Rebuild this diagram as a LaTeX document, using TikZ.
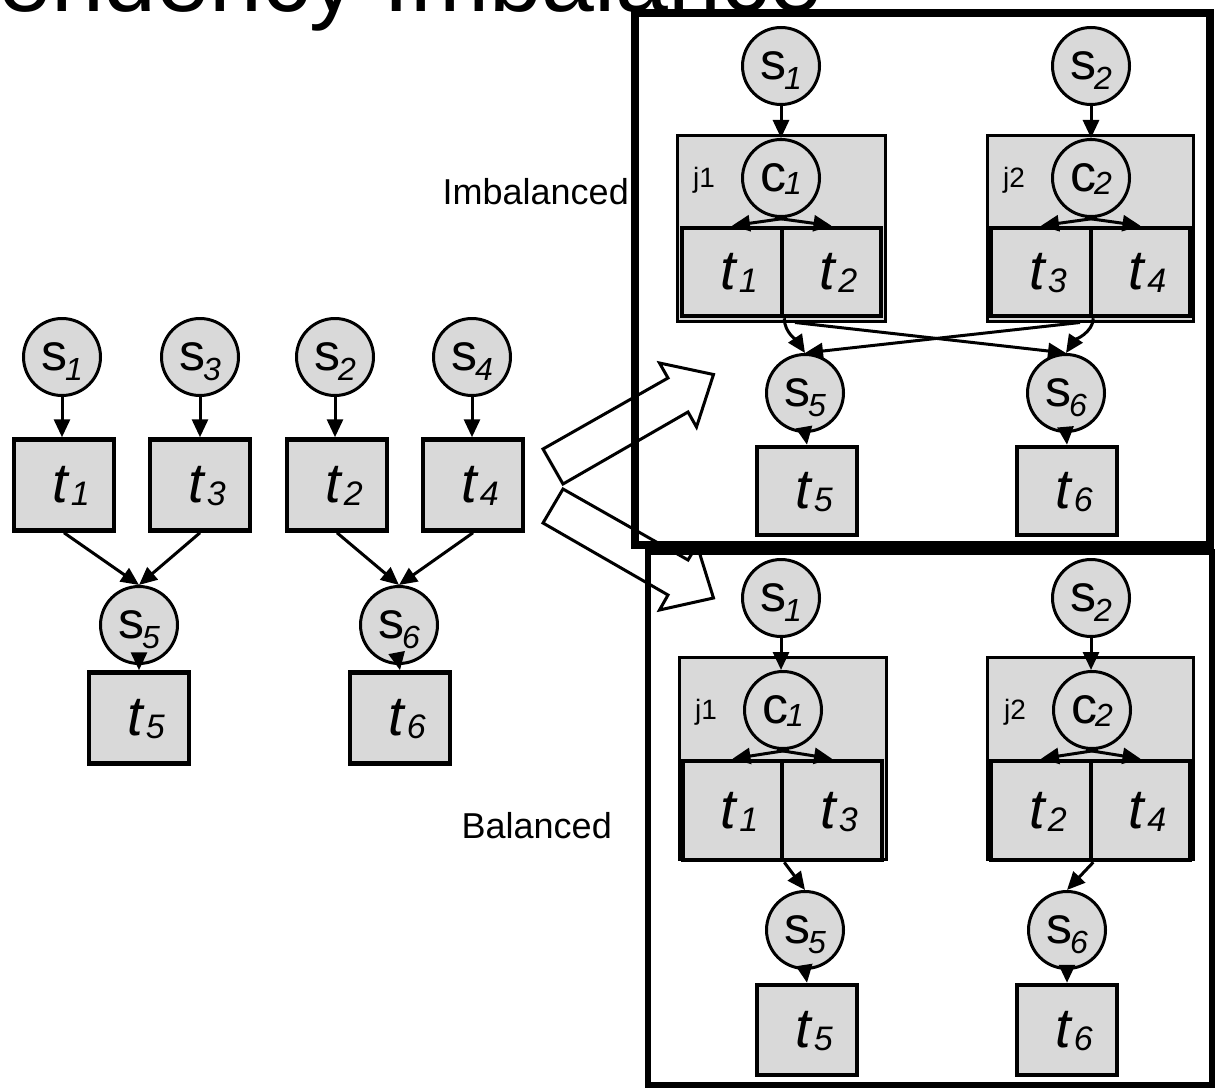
\documentclass[tikz,border=0pt]{standalone}
\usepackage{fontspec}
\setmainfont{Liberation Sans}
\usetikzlibrary{arrows.meta,calc}
\definecolor{nodegray}{RGB}{217,217,217}

% node labels: upright letter with italic subscript, italic t with italic subscript
\newcommand\slab[2]{{\fontsize{52}{52}\selectfont #1}\kern-2pt\raisebox{-10pt}[0pt][0pt]{\fontsize{32}{32}\selectfont\itshape #2}}
\newcommand\clab[2]{{\fontsize{52}{52}\selectfont #1}\kern-2pt\raisebox{-3pt}[0pt][0pt]{\fontsize{32}{32}\selectfont\itshape #2}}
\newcommand\tlab[1]{\hspace*{14pt}{\fontsize{56}{56}\selectfont\itshape t}\kern3pt\raisebox{-3pt}[0pt][0pt]{\fontsize{34}{34}\selectfont\itshape #1}}

\tikzset{
  circ/.style={circle, draw, fill=nodegray, line width=3pt, minimum size=77pt, inner sep=0pt},
  tbox/.style={rectangle, draw, fill=nodegray, line width=4.5pt, minimum width=100pt, minimum height=91pt, inner sep=0pt},
  jbox/.style={rectangle, draw, fill=nodegray, line width=3pt, inner sep=0pt},
  conn/.style={line width=3pt, -{Triangle[length=18pt,width=16pt]}},
  bigarrow/.style={draw, fill=white, line width=3pt, line join=miter},
  frameA/.style={draw, line width=8pt},
  frameB/.style={draw, line width=6pt},
  lbl/.style={font=\fontsize{36}{36}\selectfont, inner sep=0pt},
  jlbl/.style={font=\fontsize{28}{28}\selectfont, inner sep=0pt},
}

\begin{document}
\begin{tikzpicture}[x=1pt,y=-1pt]
\useasboundingbox (0,0) rectangle (1215,1089);

% title, cut by the top edge
\begin{scope}
  \clip (0,0) rectangle (1215,1089);
  \node[anchor=base west, inner sep=0pt, font=\fontsize{95}{95}\selectfont] (title) at (-2,12) {endency Imbalance};
\end{scope}

% ---------- original graph ----------
\node[circ] (ls1) at (62,357) {\slab{s}{1}};
\node[circ] (ls3) at (200,357) {\slab{s}{3}};
\node[circ] (ls2) at (335,357) {\slab{s}{2}};
\node[circ] (ls4) at (472,357) {\slab{s}{4}};
\node[tbox] (lt1) at (64,485) {\tlab{1}};
\node[tbox] (lt3) at (200,485) {\tlab{3}};
\node[tbox] (lt2) at (337,485) {\tlab{2}};
\node[tbox] (lt4) at (473,485) {\tlab{4}};
\node[circ] (ls5) at (139,625) {\slab{s}{5}};
\node[circ] (ls6) at (399,625) {\slab{s}{6}};
\node[tbox] (lt5) at (139,718) {\tlab{5}};
\node[tbox] (lt6) at (400,718) {\tlab{6}};

\foreach \s/\t in {ls1/lt1, ls3/lt3, ls2/lt2, ls4/lt4}
  \draw[conn] (\s.south) -- (\s.south |- \t.north);
\draw[conn] (lt1.south) -- (ls5.north);
\draw[conn] (lt3.south) -- (ls5.north);
\draw[conn] (lt2.south) -- (ls6.north);
\draw[conn] (lt4.south) -- (ls6.north);
\draw[conn] (ls5.south) -- (lt5.north);
\draw[conn] (ls6.south) -- (lt6.north);

% ---------- block arrows ----------
\draw[bigarrow] (563,484) -- (543,449) -- (668,378) -- (659.5,363) -- (713.5,374.5) -- (696.5,427) -- (688,412) -- cycle;
\draw[bigarrow] (543,523) -- (563,489) -- (688,560) -- (697,545) -- (713.5,598) -- (659.5,610) -- (668,595) -- cycle;

% ---------- imbalanced assignment ----------
\node[jbox, minimum width=208pt, minimum height=185pt] (j1A) at (781,228.5) {};
\node[jbox, minimum width=206pt, minimum height=185pt] (j2A) at (1090,228.5) {};
\node[circ] (s1A) at (781,66) {\slab{s}{1}};
\node[circ] (s2A) at (1091,66) {\slab{s}{2}};
\node[circ] (c1A) at (781,178) {\clab{c}{1}};
\node[circ] (c2A) at (1091,178) {\clab{c}{2}};
\node[jlbl] (j1lA) at (704,180) {j1};
\node[jlbl] (j2lA) at (1014,180) {j2};
\node[tbox, minimum width=100pt, minimum height=88pt] (t1A) at (732,272) {\tlab{1}};
\node[tbox, minimum width=99pt, minimum height=88pt] (t2A) at (831.5,272) {\tlab{2}};
\node[tbox, minimum width=100pt, minimum height=88pt] (t3A) at (1041,272) {\tlab{3}};
\node[tbox, minimum width=99pt, minimum height=88pt] (t4A) at (1140.5,272) {\tlab{4}};
\node[circ] (s5A) at (805,393) {\slab{s}{5}};
\node[circ] (s6A) at (1066,393) {\slab{s}{6}};
\node[tbox, minimum height=88pt] (t5A) at (807,491) {\tlab{5}};
\node[tbox, minimum height=88pt] (t6A) at (1067,491) {\tlab{6}};

\draw[conn] (s1A.south) -- (c1A.north);
\draw[conn] (s2A.south) -- (c2A.north);
\draw[conn] ([xshift=6pt]c1A.south) -- (t1A.north);
\draw[conn] ([xshift=-6pt]c1A.south) -- (t2A.north);
\draw[conn] ([xshift=6pt]c2A.south) -- (t3A.north);
\draw[conn] ([xshift=-6pt]c2A.south) -- (t4A.north);
\draw[conn] (t1A.south east) .. controls +(0,14) and +(-8,-12) .. (s5A.north);
\draw[conn] (t3A.south east) .. controls +(0,14) and +(8,-12) .. (s6A.north);
\draw[conn] ([xshift=14pt]j1A.south) -- (s6A.north);
\draw[conn] ([xshift=-10pt]j2A.south) -- (s5A.north);
\draw[conn] (s5A.south) -- (t5A.north);
\draw[conn] (s6A.south) -- (t6A.north);

% ---------- balanced assignment ----------
\node[jbox, minimum width=207pt, minimum height=202pt] (j1B) at (782.5,758) {};
\node[jbox, minimum width=206pt, minimum height=202pt] (j2B) at (1090,758) {};
\node[circ] (s1B) at (781,598) {\slab{s}{1}};
\node[circ] (s2B) at (1091,598) {\slab{s}{2}};
\node[circ] (c1B) at (783,710) {\clab{c}{1}};
\node[circ] (c2B) at (1092,710) {\clab{c}{2}};
\node[jlbl] (j1lB) at (706,712) {j1};
\node[jlbl] (j2lB) at (1015,712) {j2};
\node[tbox, minimum width=99pt, minimum height=99pt] (t1B) at (732.5,810.5) {\tlab{1}};
\node[tbox, minimum width=100pt, minimum height=99pt] (t3B) at (832,810.5) {\tlab{3}};
\node[tbox, minimum width=100pt, minimum height=99pt] (t2B) at (1041,810.5) {\tlab{2}};
\node[tbox, minimum width=99pt, minimum height=99pt] (t4B) at (1140.5,810.5) {\tlab{4}};
\node[circ] (s5B) at (805,930) {\slab{s}{5}};
\node[circ] (s6B) at (1067,930) {\slab{s}{6}};
\node[tbox, minimum height=90pt] (t5B) at (807,1030) {\tlab{5}};
\node[tbox, minimum height=90pt] (t6B) at (1067,1030) {\tlab{6}};

\draw[conn] (s1B.south) -- (s1B.south |- c1B.north);
\draw[conn] (s2B.south) -- (s2B.south |- c2B.north);
\draw[conn] ([xshift=6pt]c1B.south) -- (t1B.north);
\draw[conn] ([xshift=-6pt]c1B.south) -- (t3B.north);
\draw[conn] ([xshift=6pt]c2B.south) -- (t2B.north);
\draw[conn] ([xshift=-6pt]c2B.south) -- (t4B.north);
\draw[conn] (t1B.south east) -- (s5B.north);
\draw[conn] (t2B.south east) -- (s6B.north);
\draw[conn] (s5B.south) -- (t5B.north);
\draw[conn] (s6B.south) -- (t6B.north);

% ---------- frames and captions ----------
\draw[frameA] (635,13) rectangle (1210,545);
\draw[frameB] (648,552) rectangle (1212,1085);
\node[lbl, anchor=east] (imb) at (629,192) {Imbalanced};
\node[lbl, anchor=east] (bal) at (612,826) {Balanced};
\end{tikzpicture}
\end{document}
